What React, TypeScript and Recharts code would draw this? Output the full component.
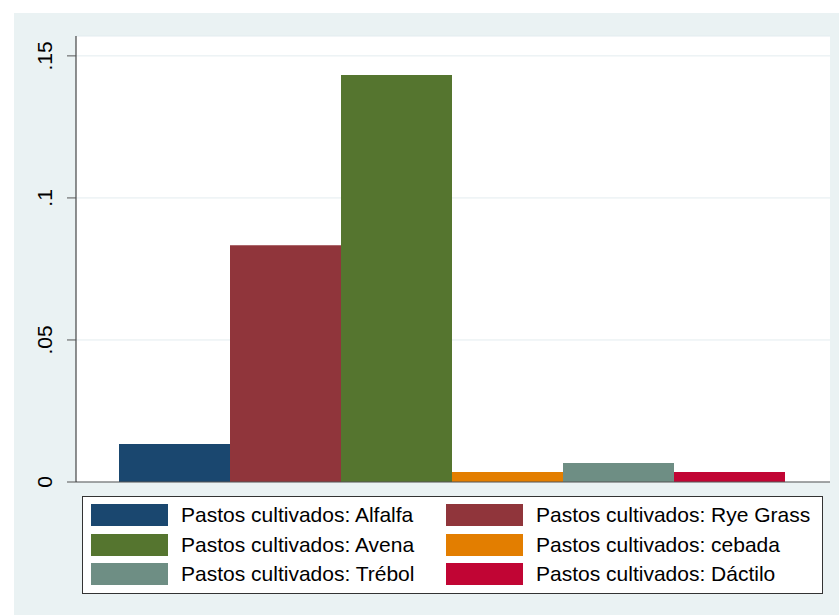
import React from 'react'
import { BarChart, Bar, XAxis, YAxis, CartesianGrid } from 'recharts'

const seriesNames: string[] = ['Alfalfa', 'Rye Grass', 'Avena', 'cebada', 'Trébol', 'Dáctilo']
const seriesValues: number[] = [0.0134, 0.0833, 0.1433, 0.0035, 0.0067, 0.0035]
const seriesColors: string[] = ['#1a476f', '#90353b', '#55752f', '#e37e00', '#6e8e84', '#c10534']
const yTicks: number[] = [0, 0.05, 0.1, 0.15]
const yTickLabels: string[] = ['0', '.05', '.1', '.15']

const legendPrefix = 'Pastos cultivados: '

// one category, one key per series
const row: Record<string, string | number> = { name: 'Pastos cultivados' }
seriesNames.forEach((n, i) => {
    row['s' + i] = seriesValues[i]
})
const data = [row]

const font = '"Liberation Sans", Arial, sans-serif'

const YTick = (props: any) => {
    const { x, y, payload } = props
    const idx = yTicks.indexOf(payload.value)
    const label = idx >= 0 ? yTickLabels[idx] : String(payload.value)
    return (
        <text
            x={x}
            y={y}
            transform={`rotate(-90 ${x} ${y})`}
            textAnchor="middle"
            fontSize={21}
            fontFamily={font}
            fill="#000"
        >
            {label}
        </text>
    )
}

const LegendBox = () => {
    return (
        <div
            style={{
                position: 'absolute',
                left: 82,
                top: 496,
                width: 739,
                height: 96,
                background: '#fff',
                border: '1px solid #333',
                fontFamily: font,
                fontSize: 21,
                color: '#000',
            }}
        >
            {seriesNames.map((n, i) => {
                const col = i % 2
                const r = Math.floor(i / 2)
                return (
                    <div
                        key={n}
                        style={{
                            position: 'absolute',
                            left: 8 + col * 355,
                            top: 7 + r * 29.5,
                            height: 22,
                            display: 'flex',
                            alignItems: 'center',
                            whiteSpace: 'nowrap',
                        }}
                    >
                        <div style={{ width: 77, height: 22, background: seriesColors[i] }} />
                        <span style={{ marginLeft: 13, lineHeight: '22px' }}>{legendPrefix + n}</span>
                    </div>
                )
            })}
        </div>
    )
}

const App = () => {
    return (
        <div style={{ position: 'absolute', left: 0, top: 0, width: 839, height: 615, background: '#fff' }}>
            <div style={{ position: 'absolute', left: 14, top: 13, width: 825, height: 602, background: '#eaf2f3' }} />
            <div style={{ position: 'absolute', left: 0, top: 0 }}>
                <BarChart
                    width={839}
                    height={615}
                    data={data}
                    margin={{ top: 36, right: 9, left: 14, bottom: 132 }}
                    barCategoryGap={43}
                    barGap={0}
                >
                    <CartesianGrid vertical={false} stroke="#e3ecef" fill="#ffffff" />
                    <XAxis dataKey="name" tick={false} tickLine={false} height={1} stroke="#555" />
                    <YAxis
                        width={62}
                        domain={[0, 0.157]}
                        ticks={yTicks}
                        interval={0}
                        tickSize={9}
                        tickMargin={15}
                        stroke="#222"
                        tickLine={{ stroke: '#555' }}
                        tick={<YTick />}
                    />
                    {seriesNames.map((n, i) => (
                        <Bar key={n} dataKey={'s' + i} fill={seriesColors[i]} isAnimationActive={false} />
                    ))}
                </BarChart>
            </div>
            <LegendBox />
        </div>
    )
}

export default App
